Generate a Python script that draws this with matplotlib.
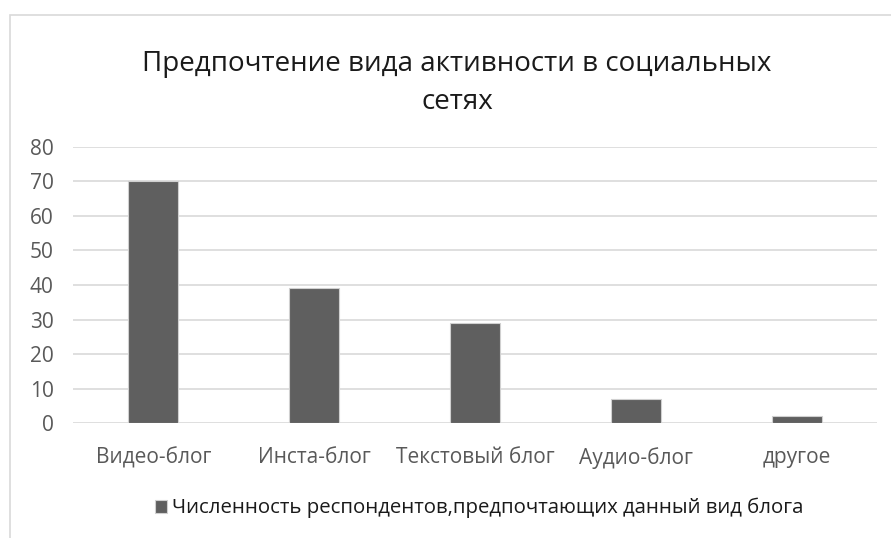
import matplotlib
matplotlib.use("Agg")
import matplotlib.pyplot as plt
from matplotlib.patches import Rectangle

categories = ["Видео-блог", "Инста-блог", "Текстовый блог", "Аудио-блог", "другое"]
values = [70, 39, 29, 7, 2]
series_name = "Численность респондентов,предпочтающих данный вид блога"
title = "Предпочтение вида активности в социальных\nсетях"

plt.rcParams['font.family'] = ['Open Sans', 'DejaVu Sans']

fig = plt.figure(figsize=(8.91, 5.38), dpi=100)
W, H = 891, 538
# chart frame
fig.patches.append(Rectangle((10 / W, -0.1), 1.0, (H - 15) / H + 0.1, transform=fig.transFigure,
                             fill=False, edgecolor="#d9d9d9", linewidth=1.2))

ax = fig.add_axes([73 / W, (H - 423.3) / H, (877 - 73) / W, (423.3 - 146.7) / H])
x = range(len(categories))
ax.bar(x, values, width=0.31, color="#5f5f5f", edgecolor="#d0d0d0", linewidth=0.8,
       label=series_name, zorder=3)
ax.set_xlim(-0.5, len(categories) - 0.5)
ax.set_ylim(0, 80)
ax.set_yticks(range(0, 81, 10))
ax.yaxis.grid(True, color="#d9d9d9", linewidth=1.2, zorder=0)
for s in ax.spines.values():
    s.set_visible(False)
ax.tick_params(axis="both", length=0, colors="#595959", labelsize=15)
ax.tick_params(axis="y", pad=14)
ax.tick_params(axis="x", pad=17)
ax.set_xticks(list(x))
ax.set_xticklabels(categories)

fig.text(457 / W, 1 - 83 / H, title, ha="center", va="center", fontsize=20,
         color="#1a1a1a", linespacing=1.5)

fig.legend(loc="center", bbox_to_anchor=(479 / W, 1 - 508 / H), frameon=False,
           fontsize=14.7, handlelength=0.6, handleheight=0.6, handletextpad=0.25,
           labelcolor="#1a1a1a")

fig.savefig("out.png", dpi=100)
